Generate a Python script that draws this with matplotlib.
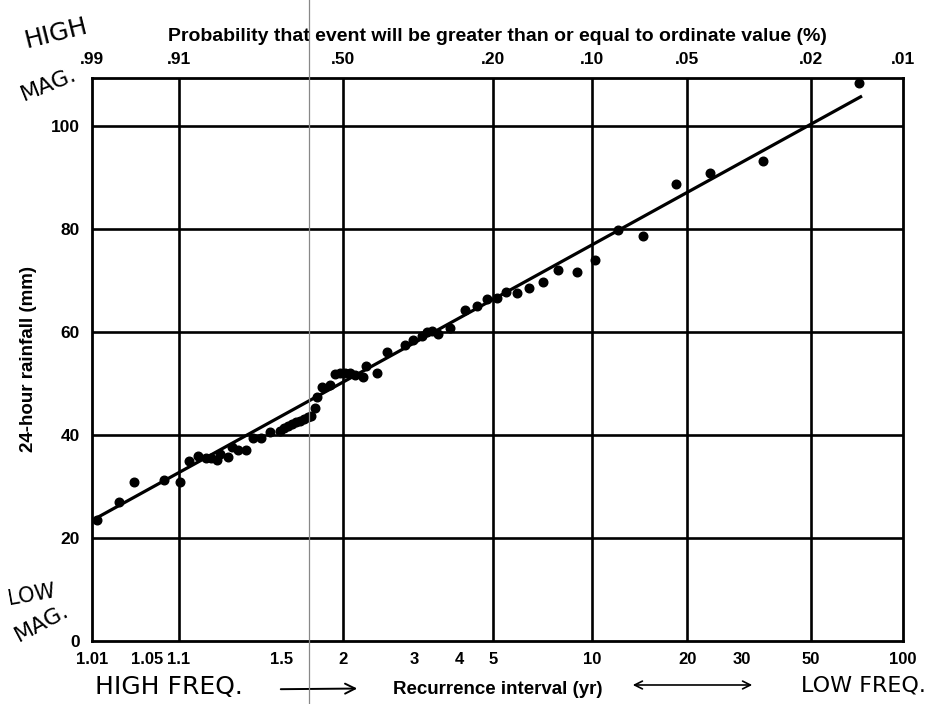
import numpy as np
import matplotlib
matplotlib.use('Agg')
import matplotlib.pyplot as plt
from matplotlib.lines import Line2D

# Gumbel (extreme value) plot of annual maximum 24-hour rainfall

# recurrence interval (yr) and 24-hour rainfall (mm) of each plotted storm
recurrence = [1.012, 1.024, 1.036, 1.074, 1.103, 1.122, 1.144, 1.166, 1.181, 1.200,
              1.210, 1.238, 1.253, 1.276, 1.310, 1.342, 1.382, 1.430, 1.488, 1.513,
              1.539, 1.566, 1.594, 1.623, 1.652, 1.683, 1.707, 1.739, 1.756, 1.800,
              1.873, 1.921, 1.971, 2.023, 2.077, 2.134, 2.230, 2.267, 2.412, 2.556,
              2.844, 2.985, 3.156, 3.256, 3.360, 3.489, 3.768, 4.156, 4.496, 4.808,
              5.144, 5.467, 5.896, 6.406, 7.062, 7.849, 8.977, 10.2, 12.05, 14.45,
              18.4, 23.6, 35.0, 71.8]
rainfall = [23.5, 27.0, 30.8, 31.3, 30.9, 35.0, 35.9, 35.5, 35.5, 35.1,
            36.4, 35.8, 37.6, 37.1, 37.1, 39.5, 39.4, 40.6, 40.8, 41.3,
            41.7, 42.1, 42.5, 42.8, 43.1, 43.4, 43.7, 45.2, 47.4, 49.4,
            49.7, 51.8, 52.0, 52.1, 52.0, 51.6, 51.3, 53.3, 52.1, 56.2,
            57.5, 58.4, 59.2, 59.9, 60.1, 59.6, 60.7, 64.3, 65.0, 66.3,
            66.6, 67.8, 67.6, 68.5, 69.7, 72.0, 71.6, 74.0, 79.8, 78.6,
            88.7, 90.8, 93.2, 108.4]

# fitted straight line (ends)
fit_T = [1.01, 73.5]
fit_mm = [23.4, 105.8]

# axis ticks
bottom_ticks = [1.01, 1.05, 1.1, 1.5, 2, 3, 4, 5, 10, 20, 30, 50, 100]
bottom_labels = ['1.01', '1.05', '1.1', '1.5', '2', '3', '4', '5', '10', '20', '30', '50', '100']
grid_T = [1.1, 2, 5, 10, 20, 50]
short_ticks = [1.05, 1.5, 3, 4, 30]
prob_T = [1.01, 1.1, 2, 5, 10, 20, 50, 100]
prob_labels = ['.99', '.91', '.50', '.20', '.10', '.05', '.02', '.01']
y_ticks = [0, 20, 40, 60, 80, 100]


def gumbel(T):
    T = np.clip(np.asarray(T, dtype=float), 1.000001, None)
    with np.errstate(all='ignore'):
        return -np.log(-np.log(1.0 - 1.0 / T))


def gumbel_inv(g):
    g = np.asarray(g, dtype=float)
    with np.errstate(all='ignore'):
        return 1.0 / (1.0 - np.exp(-np.exp(-g)))


plt.rcParams['font.family'] = ['Liberation Sans', 'DejaVu Sans']
plt.rcParams['font.weight'] = 'bold'
plt.rcParams['axes.labelweight'] = 'bold'

fig = plt.figure(figsize=(9.38, 7.04), dpi=100)
ax = fig.add_axes([92 / 938, 1 - 641 / 704, (903 - 92) / 938, (641 - 78) / 704])
ax.set_xscale('function', functions=(gumbel, gumbel_inv))
ax.set_xlim(1.01, 100)
ax.set_ylim(0, 109.3)

# grid
for t in grid_T:
    ax.axvline(t, color='black', lw=1.9, zorder=1)
for v in y_ticks[1:]:
    ax.axhline(v, color='black', lw=1.9, zorder=1)

ax.plot(fit_T, fit_mm, color='black', lw=2.3, solid_capstyle='butt', zorder=3)
ax.plot(recurrence, rainfall, 'o', color='black', ms=6.2, zorder=4)

ax.set_xticks(bottom_ticks)
ax.set_xticklabels(bottom_labels)
ax.set_xticks(short_ticks, minor=True)
ax.xaxis.set_minor_formatter(plt.NullFormatter())
ax.tick_params(axis='x', which='major', length=0, pad=8, labelsize=12)
ax.tick_params(axis='x', which='minor', direction='in', length=11, width=1.8)
ax.set_yticks(y_ticks)
ax.tick_params(axis='y', length=0, pad=9, labelsize=12.5)
for s in ax.spines.values():
    s.set_linewidth(2.0)

ax.set_xlabel('Recurrence interval (yr)', fontsize=13.5, fontweight='bold', labelpad=10)
ax.set_ylabel('24-hour rainfall (mm)', fontsize=13.5, fontweight='bold', labelpad=10)

# probability scale on top
ax2 = ax.twiny()
ax2.set_xscale('function', functions=(gumbel, gumbel_inv))
ax2.set_xlim(ax.get_xlim())
ax2.set_xticks(prob_T)
ax2.set_xticklabels(prob_labels)
ax2.tick_params(axis='x', length=0, pad=8, labelsize=12.5)
ax2.xaxis.set_minor_locator(plt.NullLocator())
for s in ax2.spines.values():
    s.set_visible(False)
ax2.set_xlabel('Probability that event will be greater than or equal to ordinate value (%)',
               fontsize=14, fontweight='bold', labelpad=8)

# handwritten notes
hand = dict(family='DejaVu Sans', weight='normal', color='black')
fig.text(0.060, 0.952, 'HIGH', fontsize=18, rotation=14, ha='center', va='center', **hand)
fig.text(0.052, 0.880, 'MAG.', fontsize=16, rotation=22, ha='center', va='center', **hand)
fig.text(0.034, 0.155, 'LOW', fontsize=15, rotation=10, ha='center', va='center', **hand)
fig.text(0.045, 0.115, 'MAG.', fontsize=16, rotation=28, ha='center', va='center', **hand)
fig.text(0.180, 0.024, 'HIGH FREQ.', fontsize=18, ha='center', va='center', **hand)
fig.text(0.920, 0.026, 'LOW FREQ.', fontsize=16, ha='center', va='center', **hand)
fig.add_artist(matplotlib.patches.FancyArrowPatch((278 / 938, 0.021), (360 / 938, 0.022),
               transform=fig.transFigure, arrowstyle='->', mutation_scale=18, lw=1.4, color='black'))
fig.add_artist(matplotlib.patches.FancyArrowPatch((630 / 938, 0.027), (755 / 938, 0.027),
               transform=fig.transFigure, arrowstyle='<->', mutation_scale=14, lw=1.2, color='black'))

# faint fold line of the scanned page
fig.add_artist(Line2D([309 / 938, 309 / 938], [0, 1], transform=fig.transFigure,
                      color='#888888', lw=0.9))

fig.savefig('out.png', dpi=100)
